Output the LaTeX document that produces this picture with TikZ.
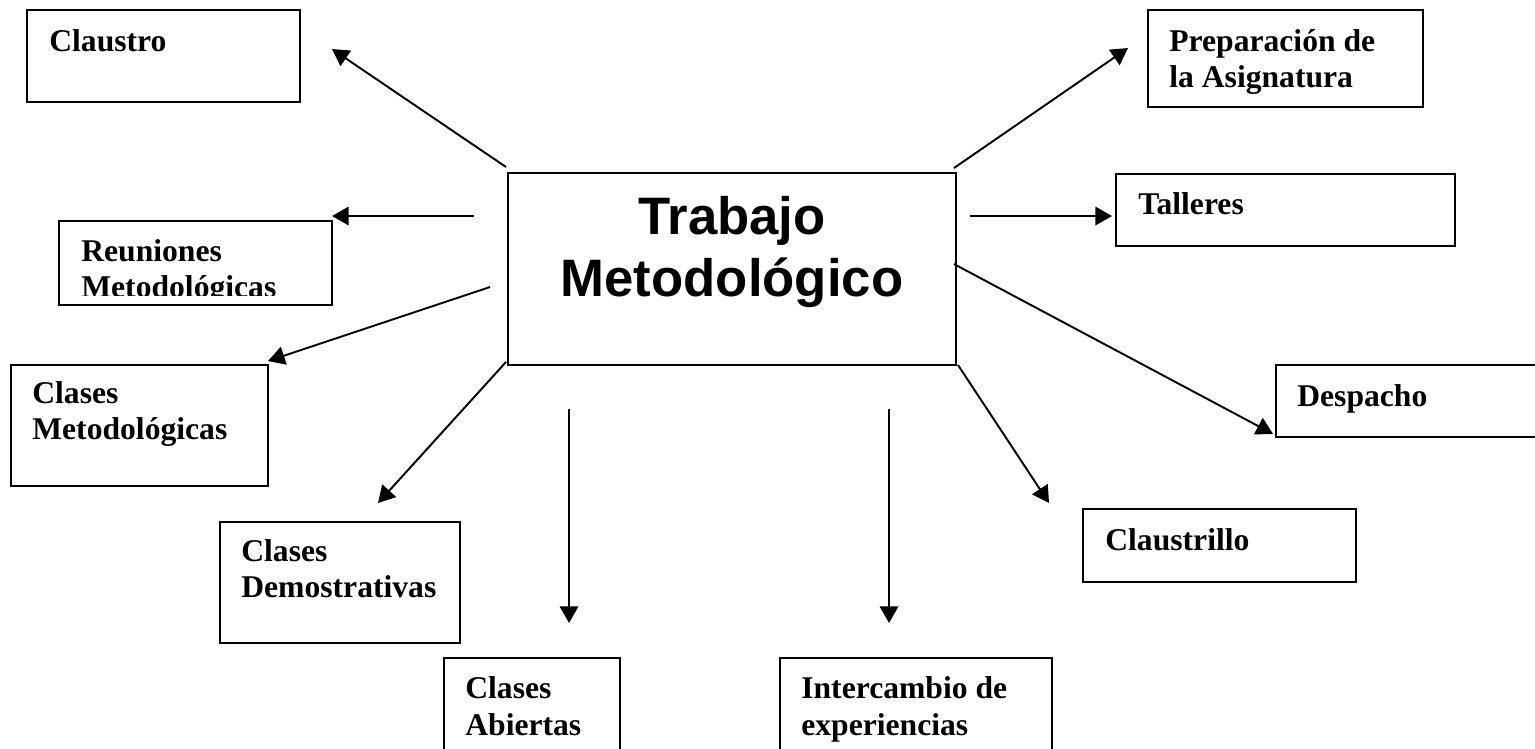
\documentclass[tikz,border=0pt]{standalone}
\usepackage{fontspec}
\setmainfont{Liberation Serif}
\newfontfamily\arialbf{Liberation Sans}
\usetikzlibrary{arrows.meta, calc}

\tikzset{
	box/.style 2 args={draw, line width=1.1pt, inner sep=0pt, minimum width=#1*0.02cm, minimum height=#2*0.02cm},
	lbl/.style={anchor=base west, inner sep=0pt, align=left, font=\fontsize{18}{21}\selectfont\bfseries},
	arr/.style={line width=1.1pt, -{Triangle[length=9.5pt, width=10.5pt]}},
}

\begin{document}
\begin{tikzpicture}[x=0.02cm, y=-0.02cm]
	\useasboundingbox (0,0) rectangle (1535,749);

	% cuadros
	\node[box={448}{192}] (tm) at (732,269) {};
	\node[box={273}{92}] (claustro) at (163.5,56) {};
	\node[box={275}{97}] (prep) at (1285.5,58.5) {};
	\node[box={273}{84}] (reuniones) at (195.5,263) {};
	\node[box={339}{72}] (talleres) at (1285.5,210) {};
	\node[box={257}{121}] (clasesmet) at (139.5,425.5) {};
	\node[box={274}{72}] (despacho) at (1413,401) {};
	\node[box={240}{121}] (clasesdem) at (340,582.5) {};
	\node[box={273}{73}] (claustrillo) at (1219.5,545.5) {};
	\node[box={176}{112}] (abiertas) at (532,714) {};
	\node[box={272}{112}] (intercambio) at (916,714) {};

	% textos (base = ultima linea)
	\node[anchor=base, inner sep=0pt, align=center, font=\arialbf\fontsize{30}{35.7}\selectfont\bfseries] (tmT) at (732,297) {Trabajo\\Metodológico};
	\node[lbl] (claustroT) at (49,52) {Claustro};
	\node[lbl] (prepT) at (1169,88) {Preparación de\\la Asignatura};
	\begin{scope}
		\clip (reuniones.north west) rectangle ($(reuniones.east)+(0,33)$);
		\node[lbl] (reunionesT) at (81,298) {Reuniones\\Metodológicas};
	\end{scope}
	\node[lbl] (talleresT) at (1138,215) {Talleres};
	\node[lbl] (clasesmetT) at (32,440) {Clases\\Metodológicas};
	\node[lbl] (despachoT) at (1297,407) {Despacho};
	\node[lbl] (clasesdemT) at (241,598) {Clases\\Demostrativas};
	\node[lbl] (claustrilloT) at (1105,551) {Claustrillo};
	\node[lbl] (abiertasT) at (465,735) {Clases\\Abiertas};
	\node[lbl] (intercambioT) at (801,735) {Intercambio de\\experiencias};

	% flechas
	\draw[arr] ($(tm.north west)+(-1,-5)$) -- ($(claustro.north east)+(31,40)$);
	\draw[arr] ($(tm.north east)+(-3,-4)$) -- ($(prep.north west)+(-19,39)$);
	\draw[arr] ($(tm.north west)+(-33,44)$) -- ($(reuniones.north east)+(-1,-4)$);
	\draw[arr] ($(tm.north east)+(13,44)$) -- ($(talleres.north west)+(-3,43)$);
	\draw[arr] ($(tm.north west)+(-17,115)$) -- ($(clasesmet.north east)+(-1,-3)$);
	\draw[arr] ($(tm.north east)+(-3,92)$) -- ($(despacho.south west)+(-2,-4)$);
	\draw[arr] ($(tm.south west)+(-1,-4)$) -- ($(clasesdem.north west)+(159,-18)$);
	\draw[arr] ($(tm.south west)+(62,43)$) -- ($(abiertas.north west)+(126,-34)$);
	\draw[arr] ($(tm.south west)+(382,43)$) -- ($(intercambio.north west)+(110,-34)$);
	\draw[arr] ($(tm.south east)+(1,-1)$) -- ($(claustrillo.north west)+(-33,-5)$);
\end{tikzpicture}
\end{document}
